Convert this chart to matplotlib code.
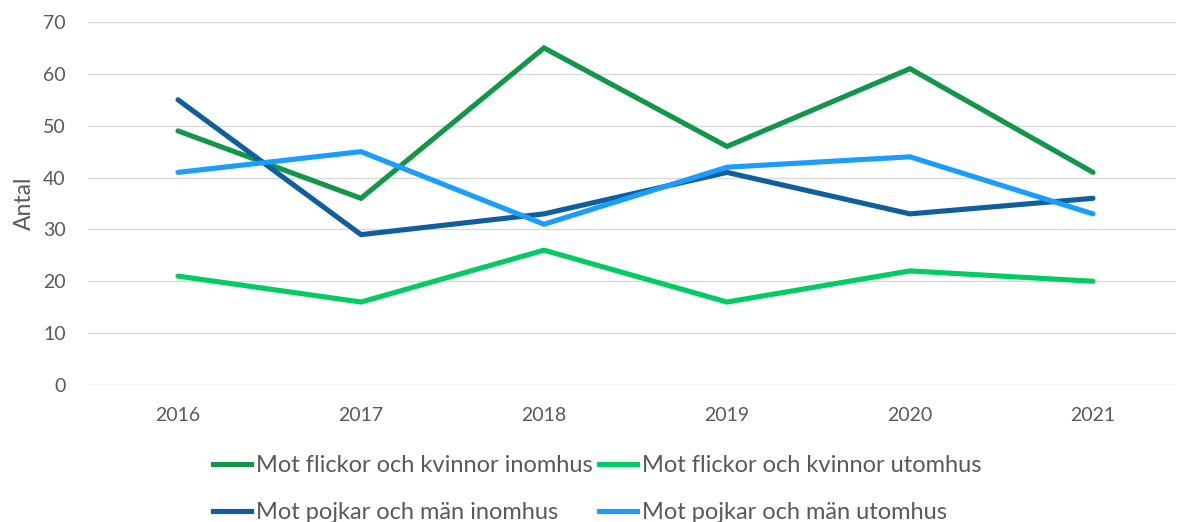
import matplotlib
matplotlib.use("Agg")
import matplotlib.pyplot as plt
from matplotlib.lines import Line2D

years = ["2016", "2017", "2018", "2019", "2020", "2021"]
flickor_inomhus = [49, 36, 65, 46, 61, 41]
flickor_utomhus = [21, 16, 26, 16, 22, 20]
pojkar_inomhus = [55, 29, 33, 41, 33, 36]
pojkar_utomhus = [41, 45, 31, 42, 44, 33]

labels = ["Mot flickor och kvinnor inomhus", "Mot flickor och kvinnor utomhus",
          "Mot pojkar och män inomhus", "Mot pojkar och män utomhus"]
colors = ["#12964a", "#00cc63", "#0f5f9f", "#1a9dff"]
series = [flickor_inomhus, flickor_utomhus, pojkar_inomhus, pojkar_utomhus]

plt.rcParams['font.family'] = ['Lato', 'DejaVu Sans']
grey = "#595959"

fig = plt.figure(figsize=(11.77, 5.22), dpi=100)
ax = fig.add_axes([88/1177, (522-385)/522, 1088/1177, 363/522])

x = list(range(len(years)))
for s, c, l in zip(series, colors, labels):
    ax.plot(x, s, color=c, lw=3.7, solid_capstyle='round', solid_joinstyle='miter', label=l)

ax.set_xlim(-90/183, 5 + 83/183)
ax.set_ylim(0, 70)
ax.set_yticks(range(0, 71, 10))
ax.set_xticks(x)
ax.set_xticklabels(years)
ax.grid(axis='y', color='#d9d9d9', lw=1)
ax.set_axisbelow(True)
for sp in ax.spines.values():
    sp.set_visible(False)
ax.tick_params(axis='both', length=0, colors=grey, labelsize=14)
ax.tick_params(axis='x', pad=16)
ax.tick_params(axis='y', pad=16)
ax.set_ylabel("Antal", color=grey, fontsize=16.5, labelpad=6)

# row-major legend order: matplotlib fills columns first
order = [0, 2, 1, 3]
handles = [Line2D([0], [0], color=colors[i], lw=3.7) for i in order]
ordered_labels = [labels[i] for i in order]
fig.legend(handles, ordered_labels, loc='upper left', bbox_to_anchor=(213/1177, 1 - 455/522),
           ncol=2, frameon=False, fontsize=17, labelcolor=grey,
           handlelength=1.6, handletextpad=0.2, columnspacing=0.3,
           labelspacing=1.1, borderpad=0, borderaxespad=0)

fig.savefig("out.png", dpi=100, facecolor='white')
